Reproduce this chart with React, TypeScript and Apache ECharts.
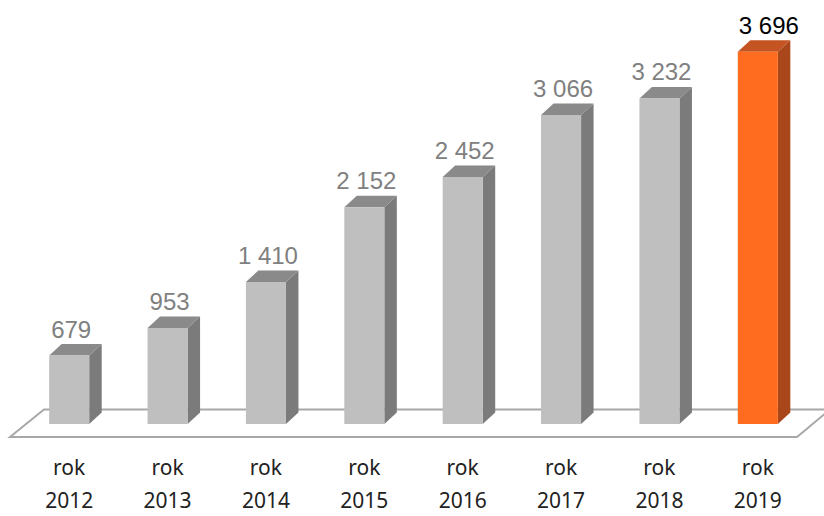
import React, { useEffect, useRef } from "react";
import * as echarts from "echarts";

const categories = ["rok\n2012", "rok\n2013", "rok\n2014", "rok\n2015", "rok\n2016", "rok\n2017", "rok\n2018", "rok\n2019"];
const values = [679, 953, 1410, 2152, 2452, 3066, 3232, 3696];
const valueLabels = ["679", "953", "1 410", "2 152", "2 452", "3 066", "3 232", "3 696"];
const highlightIndex = 7;

export default function App() {
  const ref = useRef<HTMLDivElement>(null);
  useEffect(() => {
    if (!ref.current) return;
    const chart = echarts.init(ref.current, null, { renderer: "svg" });
    const dx = 12.5;
    const dy = 11.5;
    chart.setOption({
      animation: false,
      grid: { left: 20, right: 17, top: 21, bottom: 87, containLabel: false },
      xAxis: {
        type: "category",
        data: categories,
        axisLine: { show: false },
        axisTick: { show: false },
        splitLine: { show: false },
        axisLabel: {
          margin: 26,
          fontFamily: "Noto Sans",
          fontSize: 21,
          lineHeight: 33,
          color: "#222222",
        },
      },
      yAxis: {
        type: "value",
        min: 0,
        max: 4000,
        show: false,
        splitLine: { show: false },
      },
      graphic: [
        {
          type: "polygon",
          z: 0,
          shape: {
            points: [
              [10, 437],
              [44, 409.5],
              [830, 409.5],
              [797, 437],
            ],
          },
          style: { fill: "#ffffff", stroke: "#a8a8a8", lineWidth: 2 },
        },
      ],
      series: [
        {
          type: "custom",
          z: 5,
          data: values.map((v, i) => [i, v]),
          encode: { x: 0, y: 1 },
          renderItem: (params: any, api: any) => {
            const idx = api.value(0);
            const val = api.value(1);
            const top = api.coord([idx, val]);
            const base = api.coord([idx, 0]);
            const size = api.size([1, 0]);
            const bw = size[0] * 0.407;
            const x0 = top[0] - bw / 2;
            const x1 = top[0] + bw / 2;
            const yT = top[1];
            const yB = base[1];
            const hl = idx === highlightIndex;
            const front = hl ? "#ff6b1f" : "#bfbfbf";
            const side = hl ? "#a9461a" : "#7b7b7b";
            const topC = hl ? "#c45522" : "#8a8a8a";
            return {
              type: "group",
              children: [
                {
                  type: "polygon",
                  shape: {
                    points: [
                      [x1, yT],
                      [x1 + dx, yT - dy],
                      [x1 + dx, yB - dy],
                      [x1, yB],
                    ],
                  },
                  style: { fill: side },
                },
                {
                  type: "polygon",
                  shape: {
                    points: [
                      [x0, yT],
                      [x0 + dx, yT - dy],
                      [x1 + dx, yT - dy],
                      [x1, yT],
                    ],
                  },
                  style: { fill: topC },
                },
                {
                  type: "rect",
                  shape: { x: x0, y: yT, width: bw, height: yB - yT },
                  style: { fill: front },
                },
                {
                  type: "text",
                  x: top[0] + (hl ? 11 : 2),
                  y: yT - dy - 3,
                  style: {
                    text: valueLabels[idx],
                    fontFamily: "Liberation Sans",
                    fontSize: 24,
                    fill: hl ? "#000000" : "#808080",
                    align: "center",
                    verticalAlign: "bottom",
                  },
                },
              ],
            };
          },
        },
      ],
    });
    return () => chart.dispose();
  }, []);
  return <div ref={ref} style={{ width: 824, height: 516, position: "absolute", left: 0, top: 0 }} />;
}
